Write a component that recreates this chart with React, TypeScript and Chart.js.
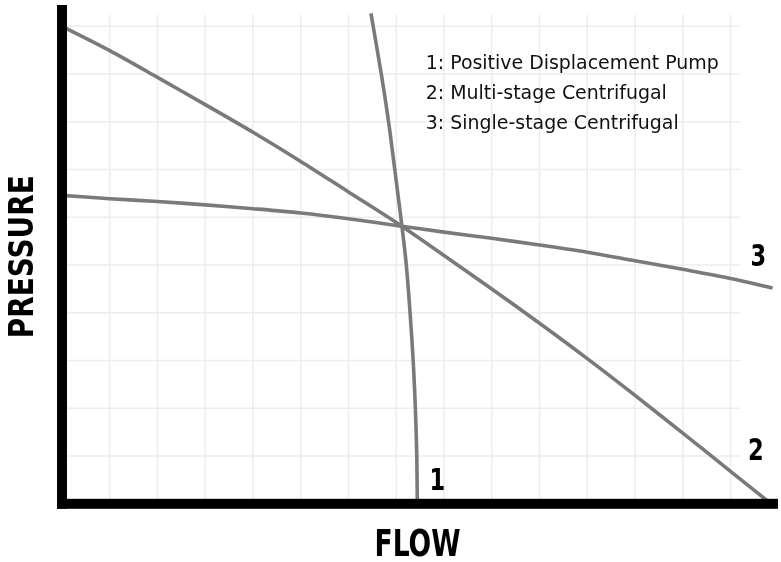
import React, { useEffect, useRef } from "react";
import { Chart, registerables } from "chart.js";

Chart.register(...registerables);

// Curve 1: positive displacement pump (flow, pressure in grid units)
const pdFlow = [6.47, 6.69, 6.84, 6.97, 7.12, 7.21, 7.29, 7.355, 7.4, 7.43, 7.44];
const pdPressure = [10.27, 8.98, 7.99, 6.99, 5.8, 5.0, 3.99, 2.98, 2.0, 0.99, 0.0];

// Curve 2: multi-stage centrifugal
const msFlow = [0, 1, 2, 3, 4, 5, 6, 7, 8, 9, 10, 11, 12, 13, 14, 14.8];
const msPressure = [10.0, 9.49, 8.93, 8.36, 7.78, 7.17, 6.53, 5.89, 5.2, 4.5, 3.78, 3.04, 2.27, 1.48, 0.68, 0.04];

// Curve 3: single-stage centrifugal
const ssFlow = [0, 1, 2, 3, 4, 5, 6, 7, 8, 9, 10, 11, 12, 13, 14, 14.88];
const ssPressure = [6.46, 6.39, 6.33, 6.26, 6.18, 6.09, 5.97, 5.83, 5.69, 5.56, 5.42, 5.27, 5.09, 4.91, 4.72, 4.52];

const legendLines = [
  "1: Positive Displacement Pump",
  "2: Multi-stage Centrifugal",
  "3: Single-stage Centrifugal",
];
const curveLabels = ["1", "2", "3"];
const xGridTicks = [1, 2, 3, 4, 5, 6, 7, 8, 9, 10, 11, 12, 13, 14];
const yGridTicks = [1, 2, 3, 4, 5, 6, 7, 8, 9, 10];
const xTitle = "FLOW";
const yTitle = "PRESSURE";

const curveColor = "#7a7a7a";
const FONT = "'DejaVu Sans Condensed', 'Liberation Sans Narrow', Roboto, sans-serif";

function toPoints(xs: number[], ys: number[]) {
  return xs.map((x, i) => ({ x, y: ys[i] }));
}

function fitted(ctx: CanvasRenderingContext2D, text: string, x: number, y: number, font: string, scaleX: number, align: CanvasTextAlign) {
  ctx.save();
  ctx.font = font;
  ctx.textAlign = align;
  ctx.translate(x, y);
  ctx.scale(scaleX, 1);
  ctx.fillText(text, 0, 0);
  ctx.restore();
}

function widthOf(ctx: CanvasRenderingContext2D, text: string, font: string) {
  ctx.save();
  ctx.font = font;
  const w = ctx.measureText(text).width;
  ctx.restore();
  return w;
}

const decorPlugin = {
  id: "pumpDecor",
  beforeDatasetsDraw(chart: any) {
    const { ctx, chartArea } = chart;
    const xs = chart.scales.x;
    const ys = chart.scales.y;
    ctx.save();
    ctx.strokeStyle = "#ededed";
    ctx.lineWidth = 1.5;
    const gridRight = xs.getPixelForValue(14.2);
    for (const t of xGridTicks) {
      const px = xs.getPixelForValue(t);
      ctx.beginPath();
      ctx.moveTo(px, chartArea.top + 1);
      ctx.lineTo(px, chartArea.bottom);
      ctx.stroke();
    }
    for (const t of yGridTicks) {
      const py = ys.getPixelForValue(t);
      ctx.beginPath();
      ctx.moveTo(chartArea.left, py);
      ctx.lineTo(gridRight, py);
      ctx.stroke();
    }
    ctx.restore();
  },
  afterDatasetsDraw(chart: any) {
    const { ctx } = chart;
    const xs = chart.scales.x;
    const ys = chart.scales.y;
    const x0 = xs.getPixelForValue(0);
    const y0 = ys.getPixelForValue(0);
    ctx.save();
    ctx.textBaseline = "alphabetic";
    // axes
    ctx.fillStyle = "#000";
    ctx.fillRect(x0 - 5, 5, 10, y0);
    ctx.fillRect(x0 - 5, y0 - 5, 778 - (x0 - 5), 10);

    // legend
    ctx.fillStyle = "#111";
    const legFont = `19.6px ${FONT}`;
    const legScale = 293 / widthOf(ctx, legendLines[0], legFont);
    const lx = 425.8;
    const lb = [69.3, 99.3, 128.5];
    legendLines.forEach((t, i) => fitted(ctx, t, lx, lb[i], legFont, legScale, "left"));

    // curve labels
    ctx.fillStyle = "#000";
    const labFont = `bold 29.5px ${FONT}`;
    fitted(ctx, curveLabels[0], xs.getPixelForValue(7.86), ys.getPixelForValue(0.29), labFont, 0.85, "center");
    fitted(ctx, curveLabels[1], xs.getPixelForValue(14.53), ys.getPixelForValue(0.92), labFont, 0.85, "center");
    fitted(ctx, curveLabels[2], xs.getPixelForValue(14.58), ys.getPixelForValue(4.98), labFont, 0.85, "center");

    // axis titles
    const xtFont = `bold 36.6px ${FONT}`;
    fitted(ctx, xTitle, 417.5, 556, xtFont, 86 / widthOf(ctx, xTitle, xtFont), "center");
    const ytFont = `bold 33px ${FONT}`;
    ctx.save();
    ctx.translate(33.3, 256.7);
    ctx.rotate(-Math.PI / 2);
    fitted(ctx, yTitle, 0, 0, ytFont, 163 / widthOf(ctx, yTitle, ytFont), "center");
    ctx.restore();
    ctx.restore();
  },
};

export default function App() {
  const canvasRef = useRef<HTMLCanvasElement | null>(null);

  useEffect(() => {
    const canvas = canvasRef.current;
    if (!canvas) return;
    const ds = (xs: number[], ys: number[]) => ({
      data: toPoints(xs, ys),
      borderColor: curveColor,
      borderWidth: 3.6,
      pointRadius: 0,
      tension: 0.3,
      fill: false,
      clip: false as any,
    });
    const chart = new Chart(canvas, {
      type: "line",
      data: {
        datasets: [ds(pdFlow, pdPressure), ds(msFlow, msPressure), ds(ssFlow, ssPressure)],
      },
      options: {
        responsive: false,
        animation: false,
        devicePixelRatio: 1,
        layout: { padding: { left: 62, right: 5.1, top: 13.4, bottom: 58.2 } },
        plugins: { legend: { display: false }, tooltip: { enabled: false } },
        scales: {
          x: { type: "linear", min: 0, max: 14.95, display: false },
          y: { type: "linear", min: 0, max: 10.27, display: false },
        },
      },
      plugins: [decorPlugin],
    });
    return () => chart.destroy();
  }, []);

  return (
    <div style={{ position: "fixed", left: 0, top: 0, width: 781, height: 562, background: "#fff" }}>
      <canvas ref={canvasRef} width={781} height={562} style={{ width: 781, height: 562 }} />
    </div>
  );
}
